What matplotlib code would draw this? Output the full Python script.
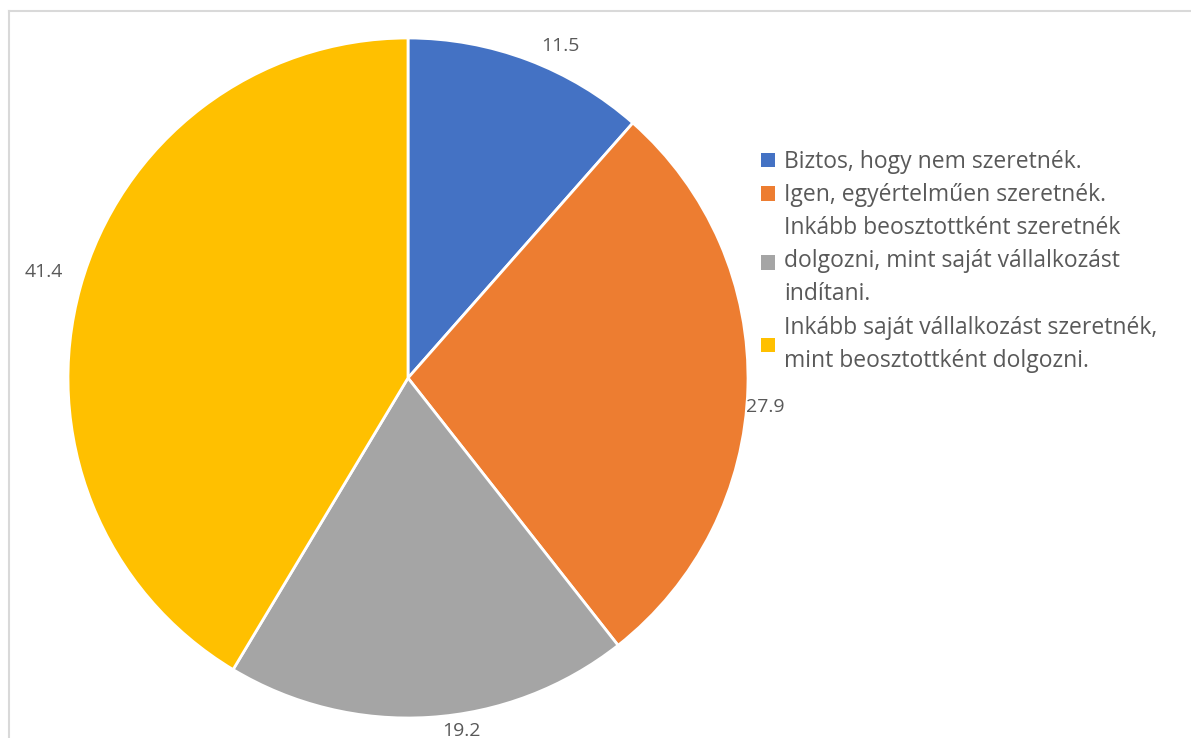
import numpy as np
import matplotlib
matplotlib.use('Agg')
from matplotlib import pyplot as plt
from matplotlib.patches import Patch

# Adatok
cimkek = ['Biztos, hogy nem szeretnék.',
          'Igen, egyértelműen szeretnék.',
          'Inkább beosztottként szeretnék\ndolgozni, mint saját vállalkozást\nindítani.',
          'Inkább saját vállalkozást szeretnék,\nmint beosztottként dolgozni.']
ertekek = [11.5, 27.9, 19.2, 41.4]
szinek = ['#4472c4', '#ed7d31', '#a5a5a5', '#ffc000']

plt.rcParams['font.family'] = ['Open Sans', 'DejaVu Sans']

W, H = 1191, 738
fig = plt.figure(figsize=(W / 100, H / 100), dpi=100)

# keret
keret = fig.add_axes([9 / W, 0, 1 - 9 / W, 1 - 11 / H])
keret.set_xticks([])
keret.set_yticks([])
for s in ['right', 'bottom']:
    keret.spines[s].set_visible(False)
for s in ['top', 'left']:
    keret.spines[s].set_color('#d9d9d9')
    keret.spines[s].set_linewidth(1.5)

cx, cy, r = 408, 378, 340
ax = fig.add_axes([(cx - r) / W, (H - cy - r) / H, 2 * r / W, 2 * r / H])
wedges, _ = ax.pie(ertekek, colors=szinek, startangle=90, counterclock=False,
                   wedgeprops=dict(edgecolor='white', linewidth=2))
ax.set_xlim(-1, 1)
ax.set_ylim(-1, 1)
ax.set_aspect('equal')
ax.axis('off')

# értékcímkék (Excel kicsit elforgatja őket)
tavolsag = [1.075, 1.055, 1.05, 1.115]
eltolas = [-4, -3, 5, -0.7]
for w, v, d, e in zip(wedges, ertekek, tavolsag, eltolas):
    szog = np.deg2rad((w.theta1 + w.theta2) / 2 + e)
    ax.text(d * np.cos(szog), d * np.sin(szog), f'{v:.1f}', ha='center', va='center',
            fontsize=14, color='#595959', clip_on=False)

fogantyuk = [Patch(facecolor=c, edgecolor='none') for c in szinek]
leg = fig.legend(fogantyuk, cimkek, loc='upper left', bbox_to_anchor=(745 / W, 1 - 134 / H),
                 frameon=False, fontsize=16.5, labelcolor='#595959', handlelength=0.62,
                 handleheight=0.62, handletextpad=0.4, labelspacing=0.4,
                 borderpad=0.2)
for t in leg.get_texts():
    t.set_linespacing(1.5)

plt.savefig('out.png', dpi=100)
